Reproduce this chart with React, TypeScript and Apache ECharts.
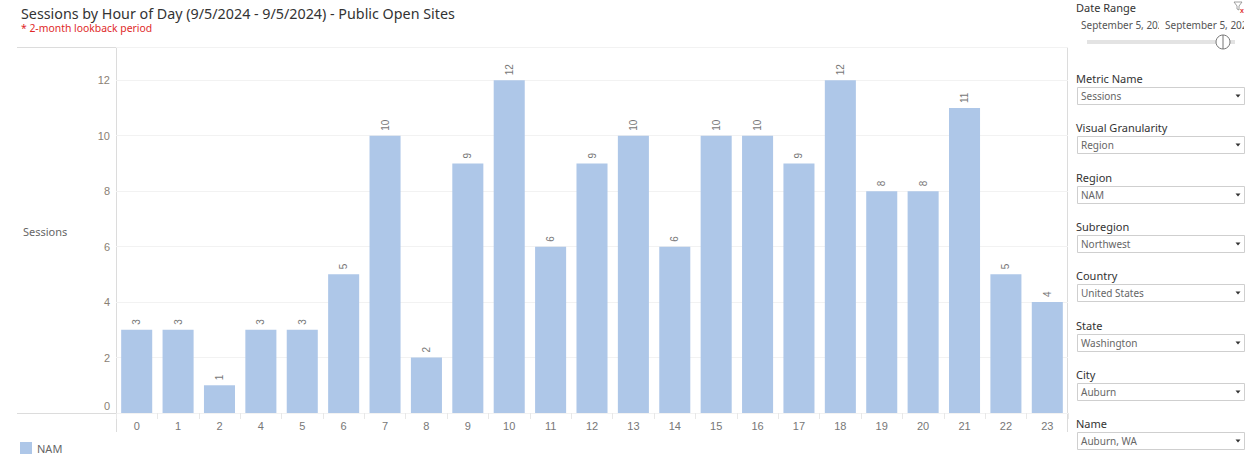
import React, { useEffect, useRef } from "react";
import * as echarts from "echarts";

// Hour-of-day categories (hour 3 has no sessions and is not listed)
const hours = ["0", "1", "2", "4", "5", "6", "7", "8", "9", "10", "11", "12", "13", "14", "15", "16", "17", "18", "19", "20", "21", "22", "23"];
const sessions = [3, 3, 1, 3, 3, 5, 10, 2, 9, 12, 6, 9, 10, 6, 10, 10, 9, 12, 8, 8, 11, 5, 4];
const seriesName = "NAM";

// Filter panel entries: label and the selected value
const filterLabels = ["Metric Name", "Visual Granularity", "Region", "Subregion", "Country", "State", "City", "Name"];
const filterValues = ["Sessions", "Region", "NAM", "Northwest", "United States", "Washington", "Auburn", "Auburn, WA"];
const dateRangeStart = "September 5, 2024";
const dateRangeEnd = "September 5, 2024";

const TEXT_FONT = "'Noto Sans', 'Open Sans', sans-serif";
const NUM_FONT = "'Liberation Sans', Arial, sans-serif";

function buildFilterPanel(): any[] {
  const els: any[] = [];
  const x0 = 1076;
  const firstLabelY = 78;
  const step = 49.3;
  filterLabels.forEach((lab, i) => {
    const y = Math.round(firstLabelY + i * step);
    els.push({
      type: "text",
      x: x0,
      y,
      style: { text: lab, fill: "#333", font: `11px ${TEXT_FONT}`, verticalAlign: "middle" },
    });
    els.push({
      type: "rect",
      shape: { x: 1077.5, y: y + 9.5, width: 167, height: 17 },
      style: { fill: "#fff", stroke: "#cfcfcf", lineWidth: 1 },
    });
    els.push({
      type: "text",
      x: 1081,
      y: y + 18,
      style: { text: filterValues[i], fill: "#666", font: `10px ${TEXT_FONT}`, verticalAlign: "middle" },
    });
    els.push({
      type: "polygon",
      shape: { points: [[1235.5, y + 16.5], [1240.5, y + 16.5], [1238, y + 19.5]] },
      style: { fill: "#333" },
    });
  });

  // Date range header, slider and filter-clear icon
  els.push({
    type: "text",
    x: x0,
    y: 7,
    style: { text: "Date Range", fill: "#333", font: `11px ${TEXT_FONT}`, verticalAlign: "middle" },
  });
  els.push({
    type: "polygon",
    shape: { points: [[1234, 2], [1242, 2], [1239, 6], [1239, 10], [1237, 9], [1237, 6]] },
    style: { fill: "#fff", stroke: "#888", lineWidth: 0.8 },
  });
  els.push({
    type: "text",
    x: 1240,
    y: 10,
    style: { text: "x", fill: "#e03030", font: `bold 7px ${NUM_FONT}`, verticalAlign: "middle" },
  });
  els.push({
    type: "group",
    clipPath: { type: "rect", shape: { x: 1078, y: 15, width: 81, height: 20 } },
    children: [
      {
        type: "text",
        x: 1081,
        y: 25,
        style: { text: dateRangeStart, fill: "#555", font: `10px ${TEXT_FONT}`, verticalAlign: "middle" },
      },
    ],
  });
  els.push({
    type: "group",
    clipPath: { type: "rect", shape: { x: 1164, y: 15, width: 80, height: 20 } },
    children: [
      {
        type: "text",
        x: 1165,
        y: 25,
        style: { text: dateRangeEnd, fill: "#555", font: `10px ${TEXT_FONT}`, verticalAlign: "middle" },
      },
    ],
  });
  els.push({
    type: "rect",
    shape: { x: 1087, y: 40, width: 148, height: 4 },
    style: { fill: "#e3e3e3" },
  });
  els.push({
    type: "circle",
    shape: { cx: 1223, cy: 42, r: 7 },
    style: { fill: "#fff", stroke: "#777", lineWidth: 1 },
  });
  els.push({
    type: "line",
    shape: { x1: 1223, y1: 35, x2: 1223, y2: 49 },
    style: { stroke: "#777", lineWidth: 1 },
  });
  return els;
}

function buildFrame(): any[] {
  const stroke = "#dcdcdc";
  return [
    { type: "line", shape: { x1: 17, y1: 47.5, x2: 1068, y2: 47.5 }, style: { stroke, lineWidth: 1 } },
    { type: "line", shape: { x1: 17, y1: 413.5, x2: 1068, y2: 413.5 }, style: { stroke, lineWidth: 1 } },
    { type: "line", shape: { x1: 116.5, y1: 47, x2: 116.5, y2: 432 }, style: { stroke, lineWidth: 1 } },
    { type: "line", shape: { x1: 1067.5, y1: 47, x2: 1067.5, y2: 432 }, style: { stroke, lineWidth: 1 } },
    {
      type: "text",
      x: 23,
      y: 231,
      style: { text: "Sessions", fill: "#666", font: `11px ${TEXT_FONT}`, verticalAlign: "middle" },
    },
  ];
}

export default function App() {
  const ref = useRef<HTMLDivElement>(null);

  useEffect(() => {
    if (!ref.current) return;
    const chart = echarts.init(ref.current, null, { renderer: "svg" });
    chart.setOption({
      animation: false,
      backgroundColor: "#fff",
      title: {
        text: "Sessions by Hour of Day (9/5/2024 - 9/5/2024) - Public Open Sites",
        subtext: "* 2-month lookback period",
        left: 16,
        top: 6,
        itemGap: 3,
        padding: [0, 5],
        textStyle: { fontSize: 14.3, fontWeight: "normal", color: "#333", fontFamily: "'Noto Sans', sans-serif" },
        subtextStyle: { fontSize: 10.4, color: "#e02828", fontFamily: "'Noto Sans', sans-serif" },
      },
      legend: {
        left: 20,
        top: 442,
        padding: 0,
        itemWidth: 12,
        itemHeight: 12,
        itemGap: 5,
        icon: "rect",
        textStyle: { color: "#666", fontSize: 11, fontFamily: TEXT_FONT, padding: [0, 0, 0, 0] },
        data: [seriesName],
      },
      grid: { left: 116, right: 191, top: 47, bottom: 44, containLabel: false },
      xAxis: {
        type: "category",
        data: hours,
        axisLine: { show: false },
        axisTick: { show: true, length: 6, lineStyle: { color: "#e8e8e8" } },
        axisLabel: { color: "#777", fontSize: 11, fontFamily: NUM_FONT, margin: 7 },
        splitLine: { show: false },
      },
      yAxis: {
        type: "value",
        min: 0,
        max: 13.2,
        interval: 2,
        axisLine: { show: false },
        axisTick: { show: false },
        axisLabel: {
          color: "#8a7f74",
          fontSize: 11,
          fontFamily: NUM_FONT,
          margin: 6,
          formatter: (v: number) => (Number.isInteger(v) ? (v === 0 ? "{z|0}" : String(v)) : ""),
          rich: { z: { color: "#8a7f74", fontSize: 11, fontFamily: NUM_FONT, padding: [0, 0, 14, 0] } },
        },
        splitLine: { lineStyle: { color: "#f2f2f2", width: 1 } },
      },
      series: [
        {
          name: seriesName,
          type: "bar",
          data: sessions,
          barCategoryGap: "25%",
          itemStyle: { color: "#aec7e8" },
          label: {
            show: true,
            position: "top",
            rotate: 90,
            align: "left",
            verticalAlign: "middle",
            distance: 5,
            color: "#777",
            fontSize: 10,
            fontFamily: NUM_FONT,
          },
        },
      ],
      graphic: { elements: [...buildFrame(), ...buildFilterPanel()] },
    });
    return () => chart.dispose();
  }, []);

  return (
    <div
      ref={ref}
      style={{ position: "absolute", left: 0, top: 0, width: 1259, height: 457, background: "#fff" }}
    />
  );
}
